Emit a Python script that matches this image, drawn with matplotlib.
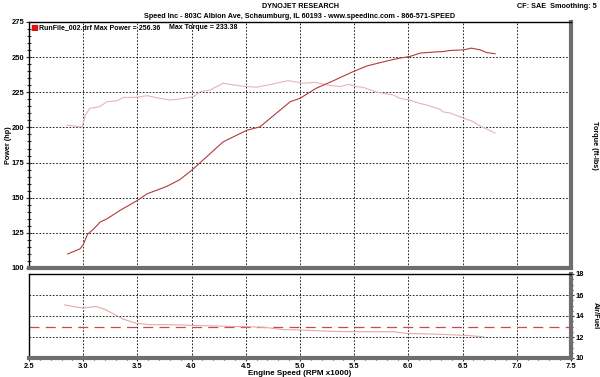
import matplotlib
matplotlib.use("Agg")
import matplotlib.pyplot as plt
from matplotlib.ticker import MultipleLocator

# ---- data ----
power_rpm = [2.857, 2.97, 3.0, 3.04, 3.10, 3.155, 3.22, 3.34, 3.49, 3.59, 3.77, 3.89, 4.0, 4.08,
             4.29, 4.51, 4.63, 4.91, 5.0, 5.15, 5.31, 5.49, 5.62, 5.84, 5.92, 6.01, 6.11, 6.23,
             6.32, 6.38, 6.51, 6.58, 6.66, 6.72, 6.80]
power_hp = [110, 113.6, 116.5, 124, 128, 132.6, 135, 141, 147.6, 152.8, 158, 162.8, 169.5, 175,
            189.7, 198, 200.4, 218.3, 220.7, 227.9, 233.3, 239.7, 243.8, 248, 249.3, 250.4, 252.9, 253.6,
            254, 254.7, 255.2, 256.4, 255.2, 253.3, 252.4]

torque_rpm = [2.85, 2.99, 3.02, 3.06, 3.15, 3.22, 3.31, 3.37, 3.49, 3.59, 3.68, 3.80, 3.89, 4.02,
              4.08, 4.17, 4.29, 4.45, 4.60, 4.75, 4.89, 5.03, 5.14, 5.25, 5.37, 5.45, 5.52, 5.58,
              5.71, 5.86, 5.92, 6.01, 6.11, 6.17, 6.29, 6.32, 6.38, 6.54, 6.58, 6.68, 6.80]
torque_ftlb = [201.6, 200.4, 208.8, 213.6, 214.7, 218.3, 219, 221.4, 221.4, 222.6, 221.1, 219.5, 220.2, 221.9,
               225.5, 226.6, 231.4, 229.5, 228.6, 230.9, 233.3, 231.4, 232.1, 230.2, 229, 230.7, 229, 228.6,
               225, 223.1, 220.7, 219.5, 217, 215.9, 213, 211, 210.4, 205.7, 204.7, 200.4, 196]

afr_rpm = [2.83, 2.99, 3.12, 3.19, 3.28, 3.37, 3.49, 3.62, 3.77, 3.92, 4.08, 4.23, 4.38, 4.54,
           4.69, 4.85, 5.0, 5.31, 5.62, 5.86, 5.98, 6.23, 6.38, 6.54, 6.69]
afr = [15.05, 14.76, 14.9, 14.67, 14.2, 13.7, 13.3, 13.17, 13.17, 13.14, 13.08, 13.05, 13.0, 12.98,
       12.9, 12.7, 12.67, 12.53, 12.5, 12.5, 12.34, 12.28, 12.22, 12.15, 12.02]
afr_target = 13.0

max_power = 256.36
max_torque = 233.38

power_color = "#b23a3a"
torque_color = "#e9b4b4"
afr_color = "#e6a8a8"
target_color = "#c84a4a"

plt.rcParams['font.family'] = ['Liberation Sans', 'DejaVu Sans']
plt.rcParams['font.weight'] = 'bold'
FS = 5.2
TFS = 5.4
LFS = 5.0

fig = plt.figure(figsize=(6.0, 3.77), dpi=100)
fig.patch.set_facecolor("white")

L, R = 29/600, 571/600
ax = fig.add_axes([L, 1-268/377, R-L, (268-22)/377])
ax2 = fig.add_axes([L, 1-358/377, R-L, (358-274)/377])

def style(a):
    for s in ("left", "top"):
        a.spines[s].set_color("black")
        a.spines[s].set_linewidth(1.0)
    for s in ("right", "bottom"):
        a.spines[s].set_color("#6e6e6e")
        a.spines[s].set_linewidth(3.0)
    a.grid(True, which="major", color="black", linestyle=(0, (2, 2)), linewidth=0.6)
    a.set_xlim(2.5, 7.5)
    a.xaxis.set_major_locator(MultipleLocator(0.5))
    a.xaxis.set_minor_locator(MultipleLocator(0.1))
    a.tick_params(which="both", labelsize=TFS, direction="inout", color="#333333")
    a.tick_params(which="major", length=5, width=0.8)
    a.tick_params(which="minor", length=3, width=0.8)

style(ax)
style(ax2)

# top panel
ax.plot(torque_rpm, torque_ftlb, color=torque_color, linewidth=0.8)
ax.plot(power_rpm, power_hp, color=power_color, linewidth=0.8)
ax.set_ylim(100, 275)
ax.yaxis.set_major_locator(MultipleLocator(25))
ax.yaxis.set_minor_locator(MultipleLocator(5))
ax.tick_params(axis="y", which="both", left=True, right=True, labelleft=True, labelright=True, pad=1)
ax.tick_params(axis="x", which="both", bottom=False, labelbottom=False)
ax.set_ylabel("Power (hp)", fontsize=FS, fontweight="bold", ha="center", va="center")
ax.yaxis.set_label_coords(-0.038, 0.5)
axr = ax.twinx()
axr.set_ylim(100, 275)
axr.set_yticks([])
for s in axr.spines.values():
    s.set_visible(False)
axr.set_ylabel("Torque (ft-lbs)", fontsize=FS, fontweight="bold", rotation=270, ha="center", va="center")
axr.yaxis.set_label_coords(1.044, 0.5)

ax.text(0.003, 0.995, "\u25A0", transform=ax.transAxes, color="#dd1111", fontsize=6,
        va="top", ha="left", family="DejaVu Sans")
ax.text(0.018, 0.99, f"RunFile_002.drf Max Power = {max_power:.2f}", transform=ax.transAxes,
        fontsize=LFS, fontweight="bold", va="top", ha="left")
ax.text(0.258, 0.99, f"Max Torque = {max_torque:.2f}", transform=ax.transAxes,
        fontsize=LFS, fontweight="bold", va="top", ha="left")

# bottom panel
ax2.axhline(afr_target, color=target_color, linewidth=0.9, linestyle=(0, (8, 5)))
ax2.plot(afr_rpm, afr, color=afr_color, linewidth=0.8)
ax2.set_ylim(10, 18)
ax2.yaxis.set_major_locator(MultipleLocator(2))
ax2.yaxis.set_minor_locator(MultipleLocator(0.5))
ax2.grid(False, axis="y")
for yv in (12, 14, 16):
    ax2.axhline(yv, color="black", linestyle=(0, (2, 2)), linewidth=0.6, zorder=0)
ax2.tick_params(axis="y", which="both", left=False, right=True, labelleft=False, labelright=True, pad=1)
ax2.tick_params(axis="x", which="both", bottom=True, pad=1)
ax2.set_xticklabels([f"{v:.1f}" for v in ax2.get_xticks()])
ax2.yaxis.set_label_position("right")
ax2.set_ylabel("Air/Fuel", fontsize=FS, fontweight="bold", rotation=270, ha="center", va="center")
ax2.yaxis.set_label_coords(1.044, 0.5)
ax2.set_xlabel("Engine Speed (RPM x1000)", fontsize=FS + 0.6, fontweight="bold", labelpad=0)

for a in (ax, ax2):
    for lab in a.get_xticklabels() + a.get_yticklabels():
        lab.set_fontweight("bold")

fig.text(0.5, 1-6/377, "DYNOJET RESEARCH", ha="center", va="center", fontsize=FS, fontweight="bold")
fig.text(0.5, 1-16/377, "Speed Inc - 803C Albion Ave, Schaumburg, IL 60193 - www.speedinc.com - 866-571-SPEED",
         ha="center", va="center", fontsize=FS, fontweight="bold")
fig.text(597/600, 1-6/377, "CF: SAE  Smoothing: 5", ha="right", va="center", fontsize=FS, fontweight="bold")

fig.savefig("out.png", dpi=100, facecolor="white")
